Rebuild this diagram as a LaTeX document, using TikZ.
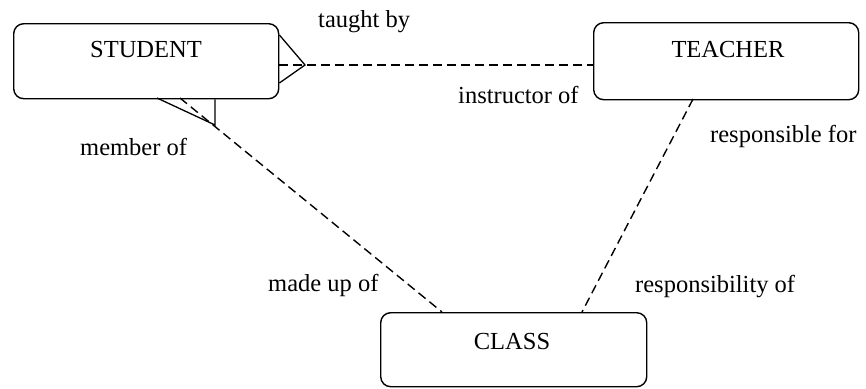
\documentclass[tikz,border=0pt]{standalone}
\usepackage{fontspec}
\setmainfont{Liberation Serif}
\begin{document}
\begin{tikzpicture}[x=1pt,y=-1pt,
  entity/.style={draw, line width=1.4pt, rounded corners=10pt, inner sep=0pt, anchor=north west},
  etext/.style={font=\fontsize{24.5}{29}\selectfont, anchor=base, inner sep=0pt},
  rtext/.style={font=\fontsize{24.5}{29}\selectfont, anchor=base west, inner sep=0pt},
  rel/.style={dash pattern=on 9pt off 5pt, line width=1.4pt},
  crow/.style={line width=1.3pt}]
\useasboundingbox (0,0) rectangle (866,388);
% entities
\node[entity, minimum width=265pt, minimum height=75pt] (student) at (13,23) {};
\node[entity, minimum width=265pt, minimum height=77pt] (teacher) at (593,22) {};
\node[entity, minimum width=266pt, minimum height=74pt] (class) at (380,312) {};
\node[etext] (studentlbl) at (146,57) {STUDENT};
\node[etext] (teacherlbl) at (728,57) {TEACHER};
\node[etext] (classlbl) at (512,349) {CLASS};
% crow's feet anchors
\coordinate (sa) at (305,65);
\coordinate (sb) at (215,125);
% relationships
\draw[rel] (student.east |- sa) -- (teacher.west |- sa);
\draw[crow] (student.east |- 0,35) -- (sa) -- (student.east |- 0,83);
\draw[rel] (180,98) -- (442,312) coordinate (ctop1);
\draw[crow] (157,98) -- (sb) -- (sb |- student.south);
\draw[rel] (693,99) -- (582,312);
% labels
\node[rtext] (taught) at (318,27) {taught by};
\node[rtext] (instr) at (458,103) {instructor of};
\node[rtext] (respfor) at (710,142) {responsible for};
\node[rtext] (member) at (80,155) {member of};
\node[rtext] (madeup) at (268,291) {made up of};
\node[rtext] (respof) at (635,292) {responsibility of};
\end{tikzpicture}
\end{document}
